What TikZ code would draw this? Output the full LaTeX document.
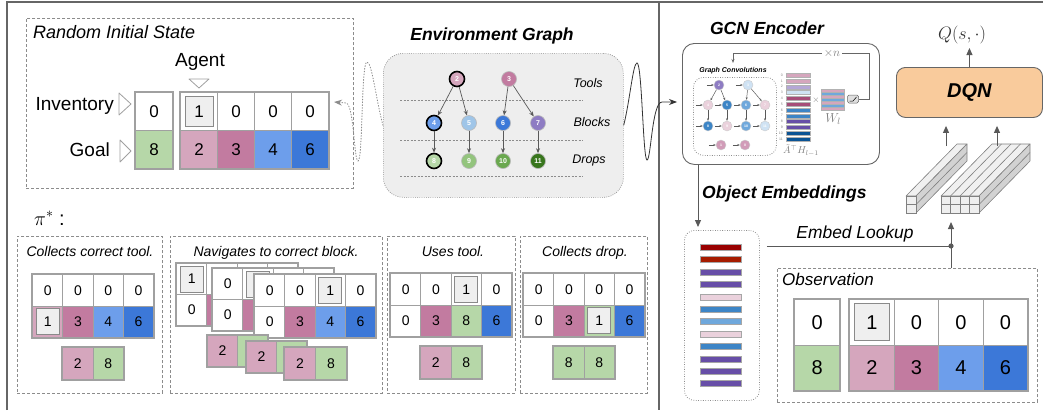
\RequirePackage{fix-cm}
\documentclass[tikz,border=0pt]{standalone}
\usepackage{fontspec}
\setmainfont{Liberation Sans}
\usetikzlibrary{arrows.meta,calc}

\definecolor{framegray}{HTML}{666666}
\definecolor{dashgray}{HTML}{8C8C8C}
\definecolor{cellgray}{HTML}{A0A0A0}
\definecolor{boxedge}{HTML}{8A8A8A}
\definecolor{boxfill}{HTML}{EFEFEF}
\definecolor{envfill}{HTML}{EEEEEE}
\definecolor{cgreen}{HTML}{B6D7A8}
\definecolor{cpink}{HTML}{D5A6BD}
\definecolor{cmauve}{HTML}{C27BA0}
\definecolor{cblue}{HTML}{6D9EEB}
\definecolor{cdblue}{HTML}{3C78D8}
\definecolor{cltblue}{HTML}{9FC5E8}
\definecolor{cpurple}{HTML}{8E7CC3}
\definecolor{cgreenb}{HTML}{93C47D}
\definecolor{cgreenc}{HTML}{6AA84F}
\definecolor{cgreend}{HTML}{38761D}
\definecolor{cpale}{HTML}{EAD1DC}
\definecolor{cpaleblue}{HTML}{CFE2F3}
\definecolor{cmidblue}{HTML}{3D85C6}
\definecolor{cskyblue}{HTML}{6FA8DC}
\definecolor{cdeeppurple}{HTML}{674EA7}
\definecolor{cwine}{HTML}{A64D79}
\definecolor{cnavy}{HTML}{0B5394}
\definecolor{clavender}{HTML}{B4A7D6}
\definecolor{cdarkred}{HTML}{990000}
\definecolor{crust}{HTML}{A61C00}
\definecolor{dqnfill}{HTML}{F9CB9C}
\definecolor{arrowgray}{HTML}{595959}

\newcommand{\fsz}[1]{\fontsize{#1}{#1}\selectfont}
\newcommand{\cellfont}{\fsz{17}}
% a block of cells: name, x, y, cell width, cell height, columns, rows, entries col/row/fill/text
\newcommand{\cellgrid}[8]{%
  \foreach \cx/\cy/\cf/\ct in {#8}{%
    \node[cellnode, fill=\cf, minimum width=#4, minimum height=#5]
      (#1-\cx-\cy) at ({#2+(\cx-1)*#4},{#3+(\cy-1)*#5}) {\ct};
  }%
  \draw[gridframe] (#1-1-1.north west) rectangle (#1-#6-#7.south east);
}

\tikzset{
  frameline/.style={draw=framegray, line width=1.4pt},
  dashbox/.style={draw=dashgray, line width=0.9pt, dash pattern=on 3pt off 2pt, inner sep=0pt, anchor=north west},
  dotbox/.style={draw=dashgray, line width=0.8pt, dash pattern=on 0.8pt off 1.6pt, inner sep=0pt, anchor=north west},
  cellnode/.style={draw=cellgray, line width=1.2pt, inner sep=0pt, anchor=north west, font=\cellfont},
  gridframe/.style={draw=cellgray, line width=2pt},
  agentbox/.style={draw=boxedge, fill=boxfill, line width=1.2pt, inner sep=0pt, font=\cellfont},
  pointer/.style={draw=cellgray, fill=white, line width=0.8pt, line join=round},
  sidetext/.style={inner sep=0pt, font=\fsz{19}},
  boxtitle/.style={inner sep=0pt, font=\fsz{18}\itshape},
  heading/.style={inner sep=0pt, font=\fsz{17.5}\bfseries\itshape},
  paneltitle/.style={inner sep=0pt, font=\fsz{14}\itshape},
  layertext/.style={inner sep=0pt, font=\fsz{12.5}\itshape},
  sepline/.style={draw=dashgray, line width=0.7pt, dash pattern=on 2pt off 1.5pt},
  gnode/.style={circle, inner sep=0pt, minimum size=15pt, font=\fsz{7}\bfseries, text=white,
    fill=#1, draw=white!45!gray, line width=0.6pt},
  gfirst/.style={draw=black, line width=1.6pt},
  gedge/.style={draw=arrowgray, line width=0.7pt, -{Stealth[length=5pt,width=4pt]}},
  mnode/.style={circle, inner sep=0pt, minimum size=10pt, font=\fsz{3.5}\bfseries, text=white,
    fill=#1, draw=white!60!gray, line width=0.4pt},
  mnedge/.style={draw=arrowgray, line width=0.5pt, -{Stealth[length=2.5pt,width=2pt]}},
  hbar/.style={draw=gray!60, line width=0.3pt, inner sep=0pt, anchor=north west},
  ebar/.style={draw=gray!70, line width=0.4pt, inner sep=0pt, anchor=north west,
    minimum width=41, minimum height=6},
  arrowline/.style={draw=arrowgray, line width=1pt, -{Triangle[length=7pt,width=6pt]}},
  cubefront/.style={fill=boxfill, draw=gray, line width=0.6pt},
  cubetop/.style={fill=gray!12, draw=gray, line width=0.6pt, line join=round},
  cubeside/.style={fill=gray!35, draw=gray, line width=0.6pt, line join=round},
}

\begin{document}
\begin{tikzpicture}[x=1pt, y=-1pt]
\useasboundingbox (0,0) rectangle (1043,410);

% outer frame and divider
\draw[frameline] (7,410) -- (7,2) -- (1043,2);
\draw[frameline] (659,2) -- (659,410);

% ---------------- random initial state ----------------
\node[dashbox, minimum width=327, minimum height=170] (init) at (26,18) {};
\node[boxtitle, anchor=base west] (initT) at (33,38) {Random Initial State};
\node[sidetext, anchor=base] (agentT) at (200,66) {Agent};
\draw[pointer] (189,79) -- (209,79) -- (199,88) -- cycle;
\node[sidetext, anchor=base east] (invT) at (114,110) {Inventory};
\node[sidetext, anchor=base east] (goalT) at (110,156) {Goal};
\draw[pointer] (119,93) -- (131,104) -- (119,115) -- cycle;
\draw[pointer] (120,140) -- (131,151) -- (120,162) -- cycle;
\cellgrid{iv}{135}{92}{37}{38}{1}{2}{1/1/white/0, 1/2/cgreen/8}
\cellgrid{im}{180}{92}{37}{38}{4}{2}{1/1/white/{}, 2/1/white/0, 3/1/white/0, 4/1/white/0,
  1/2/cpink/2, 2/2/cmauve/3, 3/2/cblue/4, 4/2/cdblue/6}
\node[agentbox, minimum width=28, minimum height=30] (iag) at (im-1-1) {1};

% ---------------- environment graph ----------------
\node[heading, anchor=base] (envT) at (492,40) {Environment Graph};
\node[fill=envfill, draw=dashgray, line width=0.7pt, dash pattern=on 0.8pt off 1.4pt,
  rounded corners=20, minimum width=240, minimum height=144, anchor=north west, inner sep=0pt]
  (env) at (383,53) {};
\draw[sepline] (400,100) -- (583,100);
\draw[sepline] (400,140) -- (583,140);
\draw[sepline] (400,176) -- (583,176);
\node[layertext, anchor=base] (toolsT) at (588,87) {Tools};
\node[layertext, anchor=base] (blocksT) at (592,126) {Blocks};
\node[layertext, anchor=base] (dropsT) at (589,163) {Drops};

\node[gnode=cpink, gfirst] (g2) at (457,79) {2};
\node[gnode=cmauve] (g3) at (509,79) {3};
\node[gnode=cblue, gfirst] (g4) at (434,123) {4};
\node[gnode=cltblue] (g5) at (469,123) {5};
\node[gnode=cdblue] (g6) at (503,123) {6};
\node[gnode=cpurple] (g7) at (538,123) {7};
\node[gnode=cgreen, gfirst] (g8) at (434,161) {8};
\node[gnode=cgreenb] (g9) at (469,161) {9};
\node[gnode=cgreenc] (g10) at (503,161) {10};
\node[gnode=cgreend] (g11) at (538,161) {11};
\foreach \a/\b in {2/4, 2/5, 3/6, 3/7, 4/8, 5/9, 6/10, 7/11}
  \draw[gedge] (g\a) -- (g\b);

% state fed back from the graph into the initial state
\coordinate (initin) at (334,102);
\draw[draw=dashgray, line width=0.9pt, dash pattern=on 0.8pt off 2pt, line cap=round,
  -{Stealth[length=8pt,width=6pt]}]
  (env.west) .. controls (376,100) and (372,62) .. (367,62)
  .. controls (361,62) and (363,161) .. (358,161)
  .. controls (354,161) and (354,104) .. (346,103) -- (initin);

% graph handed to the encoder
\coordinate (gcnin) at (677,102);
\draw[draw=black!80, line width=0.8pt, -{Stealth[length=8pt,width=6pt]}]
  (env.east) .. controls (630,100) and (633,63) .. (637,63)
  .. controls (642,63) and (643,160) .. (647,160)
  .. controls (651,160) and (652,102) .. (662,102) -- (gcnin);

% ---------------- GCN encoder ----------------
\node[heading, anchor=base] (gcnT) at (767,34) {GCN Encoder};
\node[draw=framegray, line width=0.9pt, rounded corners=12, minimum width=197, minimum height=121,
  anchor=north west, inner sep=0pt] (gcn) at (682,43) {};
\node[inner sep=0pt, font=\fsz{7}\bfseries\itshape] (gcT) at (733,71) {Graph Convolutions};
\node[dotbox, rounded corners=10, minimum width=83, minimum height=78] (gcbox) at (693,77) {};

\foreach \n/\x/\y/\mc in {2/719/85/cpurple, 3/748/85/cpaleblue,
    4/708/105/cpale, 5/727/105/cmidblue, 6/746/105/cskyblue, 7/765/105/cpale,
    8/708/126/cmidblue, 9/727/126/cpale, 10/746/126/cskyblue, 11/765/126/cpaleblue,
    1/721/145/cmauve!75, 0/745/145/cmauve!75} {
  \node[mnode=\mc] (m\n) at (\x,\y) {\n};
  \draw[mnedge] ($(m\n.west)+(-7,0)$) -- (m\n.west);
}
\foreach \a/\b in {2/4, 2/5, 3/6, 3/7, 4/8, 5/9, 6/10, 7/11}
  \draw[mnedge] (m\a) -- (m\b);

\foreach \i/\hc in {0/cpink, 1/cpink, 2/clavender, 3/cpaleblue, 4/cwine, 5/cwine,
    6/cmidblue, 7/cmidblue, 8/cdeeppurple, 9/cdeeppurple, 10/cnavy, 11/cnavy} {
  \node[hbar, fill=\hc, minimum width=24, minimum height=4] (h\i) at (786,{73+\i*5.8}) {};
  \node[inner sep=0pt, font=\fsz{3.5}, anchor=east, text=gray] (hl\i) at (783,{75+\i*5.8}) {\i};
}
\node[inner sep=0pt, font=\fsz{9}, text=gray] (times) at (816,100) {$\times$};
\foreach \i/\wc in {0/cpink, 1/cskyblue, 2/cpink, 3/cskyblue, 4/cpink, 5/cskyblue, 6/cpink}
  \node[hbar, fill=\wc, minimum width=23, minimum height=3] (w\i) at (821,{89+\i*3}) {};
\node[inner sep=0pt, font=\fsz{13}, text=gray] (wl) at (833,119) {$W_l$};
\node[inner sep=0pt, font=\fsz{10}, text=gray, anchor=north] (ah) at (801,144.5) {$\tilde{A}^{\top} H_{l-1}$};
\node[draw=framegray, fill=gray!25, rounded corners=1.5, minimum width=11, minimum height=8,
  inner sep=0pt, line width=0.5pt] (relu) at (853,99) {};
\draw[line width=0.5pt] ($(relu.center)+(-3.5,2)$) -- ($(relu.center)+(0,2)$) -- ($(relu.center)+(3.5,-2)$);
\coordinate (gcloop) at (733,63);
\draw[draw=framegray, line width=0.7pt, -{Stealth[length=4pt,width=3pt]}]
  (relu.east) -- (869,99) -- (869,53) -- (733,53) -- (gcloop);
\node[fill=white, inner xsep=2pt, inner ysep=0pt, font=\fsz{12}, text=gray] (rep) at (832,53) {$\times n$};

% ---------------- object embeddings ----------------
\coordinate (embin) at (698,227);
\draw[arrowline] (embin |- gcn.south) -- (embin);
\node[heading, anchor=base west] (embT) at (702,198) {Object Embeddings};
\node[dotbox, rounded corners=10, minimum width=75, minimum height=170] (emb) at (684,230) {};
\foreach \i/\ec in {0/cdarkred, 1/crust, 2/cdeeppurple, 3/cdeeppurple, 4/cpale, 5/cmidblue,
    6/cskyblue, 7/cpale, 8/cmidblue, 9/cdeeppurple, 10/cdeeppurple, 11/cdeeppurple}
  \node[ebar, fill=\ec] (e\i) at (700,{244+\i*12.4}) {};

% ---------------- observation ----------------
\node[dashbox, minimum width=260, minimum height=134] (obs) at (777,268) {};
\node[inner sep=0pt, font=\fsz{17}\itshape, anchor=base west] (obsT) at (782,285) {Observation};
\def\cellfont{\fsz{20}}
\cellgrid{ov}{794}{299}{45}{45.5}{1}{2}{1/1/white/0, 1/2/cgreen/8}
\cellgrid{om}{849}{299}{44.5}{45.5}{4}{2}{1/1/white/{}, 2/1/white/0, 3/1/white/0, 4/1/white/0,
  1/2/cpink/2, 2/2/cmauve/3, 3/2/cblue/4, 4/2/cdblue/6}
\node[agentbox, minimum width=35, minimum height=37] (oag) at (om-1-1) {1};

% embedding lookup into the feature tensors
\coordinate (lookup) at (951,246);
\coordinate (cubein) at (951,222);
\draw[draw=arrowgray, line width=1pt] ($(emb.east |- lookup)+(7,0)$) -- (lookup);
\draw[arrowline] (lookup |- obs.north) -- (cubein);
\fill[arrowgray] (lookup) circle (2.6);
\node[inner sep=0pt, font=\fsz{17.4}\itshape, anchor=base] (lookT) at (855,238) {Embed Lookup};

% ---------------- feature tensors ----------------
\filldraw[cubetop] (906,196) -- (916,196) -- (967,144) -- (957,144) -- cycle;
\filldraw[cubeside] (916,196) -- (916,213) -- (967,161) -- (967,144) -- cycle;
\draw[draw=gray, line width=0.6pt] (916,204.5) -- (967,152.5);
\filldraw[cubefront] (906,196) rectangle (916,204.5);
\filldraw[cubefront] (906,204.5) rectangle (916,213);

\filldraw[cubetop] (941,196) -- (979,196) -- (1030,144) -- (992,144) -- cycle;
\foreach \k in {1,2,3}
  \draw[draw=gray, line width=0.6pt] ({941+\k*9.5},196) -- ({992+\k*9.5},144);
\filldraw[cubeside] (979,196) -- (979,213) -- (1030,161) -- (1030,144) -- cycle;
\draw[draw=gray, line width=0.6pt] (979,204.5) -- (1030,152.5);
\foreach \k in {0,1,2,3} {
  \filldraw[cubefront] ({941+\k*9.5},196) rectangle ({950.5+\k*9.5},204.5);
  \filldraw[cubefront] ({941+\k*9.5},204.5) rectangle ({950.5+\k*9.5},213);
}

% ---------------- DQN ----------------
\node[draw=framegray, fill=dqnfill, rounded corners=9, minimum width=146, minimum height=50,
  anchor=north west, inner sep=0pt, line width=0.9pt, font=\fsz{20}\bfseries\itshape]
  (dqn) at (896,67) {DQN};
\coordinate (tl) at (946,146);
\coordinate (tr) at (997,146);
\draw[arrowline] (tl) -- ($(tl |- dqn.south)+(0,8)$);
\draw[arrowline] (tr) -- ($(tr |- dqn.south)+(0,8)$);
\node[inner sep=0pt, font=\fsz{18}, text=black!80] (q) at (962,35) {$Q(s,\cdot)$};
\draw[arrowline] (dqn.north) -- ($(dqn.north)+(0,-19)$);

% ---------------- optimal policy walkthrough ----------------
\node[inner sep=0pt, font=\fsz{20}, anchor=base west] (pi) at (34,225) {$\pi^{*}$ :};
\def\cellfont{\fsz{14}}

\node[dashbox, minimum width=145, minimum height=157] (p1) at (17,236) {};
\node[paneltitle, anchor=base] (p1T) at (90,256) {Collects correct tool.};
\cellgrid{a}{32}{274}{30.25}{31.5}{4}{2}{1/1/white/0, 2/1/white/0, 3/1/white/0, 4/1/white/0,
  1/2/cpink/{}, 2/2/cmauve/3, 3/2/cblue/4, 4/2/cdblue/6}
\node[agentbox, minimum width=23, minimum height=26] (aag) at (a-1-2) {1};
\cellgrid{as}{62}{347}{30.5}{32}{2}{1}{1/1/cpink/2, 2/1/cgreen/8}

% three successive positions while walking to the block, oldest at the back
\node[dashbox, minimum width=212, minimum height=157] (p2) at (170,236) {};
\node[paneltitle, anchor=base] (p2T) at (276,256) {Navigates to correct block.};
\cellgrid{b1}{176}{263}{30.25}{31}{4}{2}{1/1/white/{}, 2/1/white/{}, 3/1/white/{}, 4/1/white/{},
  1/2/white/0, 2/2/cmauve/{}, 3/2/cblue/{}, 4/2/cdblue/{}}
\node[agentbox, minimum width=23, minimum height=26] (bag1) at (b1-1-1) {1};
\cellgrid{b2}{212}{268}{30.25}{31}{4}{2}{1/1/white/0, 2/1/white/{}, 3/1/white/{}, 4/1/white/{},
  1/2/white/0, 2/2/cmauve/{}, 3/2/cblue/{}, 4/2/cdblue/{}}
\node[agentbox, minimum width=23, minimum height=26] (bag2) at (b2-2-1) {};
\cellgrid{b3}{254}{274}{30.25}{31.5}{4}{2}{1/1/white/0, 2/1/white/0, 3/1/white/{}, 4/1/white/0,
  1/2/white/0, 2/2/cmauve/3, 3/2/cblue/4, 4/2/cdblue/6}
\node[agentbox, minimum width=23, minimum height=26] (bag3) at (b3-3-1) {1};
\cellgrid{bs1}{207}{335}{30}{31}{2}{1}{1/1/cpink/2, 2/1/cgreen/{}}
\cellgrid{bs2}{246}{341}{30}{31}{2}{1}{1/1/cpink/2, 2/1/cgreen/{}}
\cellgrid{bs3}{284}{347}{31}{32}{2}{1}{1/1/cpink/2, 2/1/cgreen/8}

\node[dashbox, minimum width=128, minimum height=157] (p3) at (387,236) {};
\node[paneltitle, anchor=base] (p3T) at (453,256) {Uses tool.};
\cellgrid{c}{390}{273}{30.25}{31.5}{4}{2}{1/1/white/0, 2/1/white/0, 3/1/white/{}, 4/1/white/0,
  1/2/white/0, 2/2/cmauve/3, 3/2/cgreen/8, 4/2/cdblue/6}
\node[agentbox, minimum width=23, minimum height=26] (cag) at (c-3-1) {1};
\cellgrid{cs}{420}{346}{30.5}{32}{2}{1}{1/1/cpink/2, 2/1/cgreen/8}

\node[dashbox, minimum width=127, minimum height=157] (p4) at (520,236) {};
\node[paneltitle, anchor=base] (p4T) at (585,256) {Collects drop.};
\cellgrid{d}{523}{273}{30.25}{31.5}{4}{2}{1/1/white/0, 2/1/white/0, 3/1/white/0, 4/1/white/0,
  1/2/white/0, 2/2/cmauve/3, 3/2/cgreen/{}, 4/2/cdblue/6}
\node[agentbox, minimum width=23, minimum height=26] (dag) at (d-3-2) {1};
\cellgrid{ds}{553}{346}{30.5}{32}{2}{1}{1/1/cgreen/8, 2/1/cgreen/8}

\end{tikzpicture}
\end{document}
